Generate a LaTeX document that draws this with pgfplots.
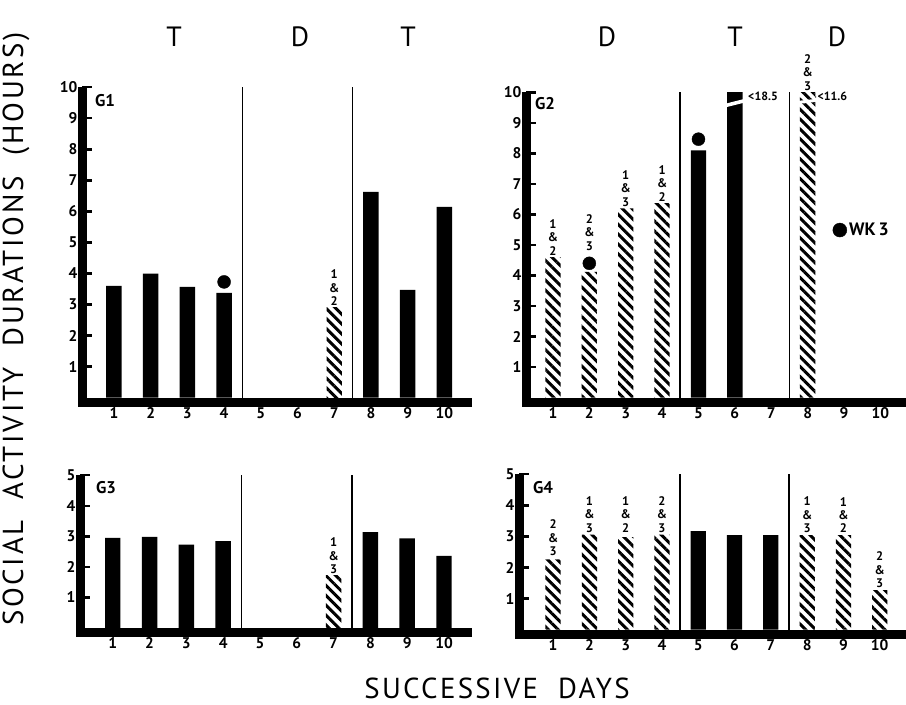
\documentclass[border=0pt]{standalone}
\usepackage{fontspec}
\setmainfont{PT Sans}
\usepackage{pgfplots}
\pgfplotsset{compat=1.18}
\usetikzlibrary{patterns.meta}

\pgfplotsset{
  panel/.style={
    scale only axis, anchor=south west,
    axis x line=bottom, axis y line=left,
    axis line style={-},
    x axis line style={line width=9bp, line cap=rect},
    y axis line style={line width=9bp},
    xtick={1,...,10}, xtick style={draw=none},
    xticklabels={1,2,3,4,5,6,7,8,9,10},
    ytick style={line width=2.4bp, black},
    tick align=inside, major tick length=10bp,
    /pgf/number format/assume math mode=true,
    tick label style={font=\bfseries\fontsize{15.5}{15.5}\selectfont},
    xticklabel style={yshift=-2bp},
    yticklabel style={xshift=-1bp},
    ymin=-0.15,
    clip mode=individual,
  },
  solidbar/.style={ybar, bar width=0.42, bar shift=0pt, fill=black, draw=none},
  hatchbar/.style={ybar, bar width=0.42, bar shift=0pt, draw=none,
    pattern={Lines[angle=-45,distance=7bp,line width=3bp]}},
  dots/.style={only marks, mark=*, mark size=6.5bp, black},
}
\tikzset{
  sep/.style={line width=1.8bp, black},
  stk/.style={anchor=south, align=center, font=\bfseries\fontsize{12.5}{13.5}\selectfont, inner sep=2bp},
}

\begin{document}
\begin{tikzpicture}
\useasboundingbox (0,0) rectangle (906bp,705bp);

% ---------------- G1 ----------------
\begin{axis}[panel, at={(82bp,302.6bp)}, width=385.5bp, height=315.2bp,
  xmin=0.13, xmax=10.63, ymax=10, ytick={1,...,10},
  yticklabels={1,2,3,4,5,6,7,8,9,10}]
\addplot[solidbar] coordinates {(1,3.6) (2,4.0) (3,3.57) (4,3.38) (8,6.63) (9,3.47) (10,6.15)};
\addplot[hatchbar] coordinates {(7,2.9)};
\addplot[dots] coordinates {(4,3.73)};
\draw[sep] (axis cs:4.5,-0.15) -- (axis cs:4.5,10);
\draw[sep] (axis cs:7.5,-0.15) -- (axis cs:7.5,10);
\node[stk] at (axis cs:7,2.9) {1\\\&\\2};
\end{axis}

% ---------------- G2 ----------------
\begin{axis}[panel, at={(526bp,302.9bp)}, width=375.5bp, height=309.6bp,
  xmin=0.26, xmax=10.58, ymax=10, ytick={1,...,10},
  yticklabels={1,2,3,4,5,6,7,8,9,10},
  legend style={draw=none, fill=none, at={(axis cs:8.6,5.49)}, anchor=west,
    font=\bfseries\fontsize{18}{18}\selectfont},
  legend image code/.code={\fill[black] (0bp,0bp) circle (7bp);}]
\addplot[solidbar, forget plot] coordinates {(5,8.1) (6,18.5)};
\addplot[hatchbar, forget plot] coordinates {(1,4.6) (2,4.12) (3,6.2) (4,6.37) (8,11.6)};
\addplot[dots] coordinates {(2,4.4) (5,8.47)};
\addlegendentry{WK\,3}
\fill[white] (axis cs:5.7,9.5) -- (axis cs:6.3,9.68) -- (axis cs:6.3,9.8) -- (axis cs:5.7,9.62) -- cycle;
\fill[white] (axis cs:7.7,9.62) -- (axis cs:8.3,9.7) -- (axis cs:8.3,9.8) -- (axis cs:7.7,9.72) -- cycle;
\draw[sep] (axis cs:4.5,-0.15) -- (axis cs:4.5,10);
\draw[sep] (axis cs:7.5,-0.15) -- (axis cs:7.5,10);
\node[stk] at (axis cs:1,4.6) {1\\\&\\2};
\node[stk] at (axis cs:2,4.75) {2\\\&\\3};
\node[stk] at (axis cs:3,6.2) {1\\\&\\3};
\node[stk] at (axis cs:4,6.37) {1\\\&\\2};
\node[stk] at (axis cs:8,10) {2\\\&\\3};
\end{axis}

% ---------------- G3 ----------------
\begin{axis}[panel, at={(80bp,72.6bp)}, width=387.2bp, height=157.1bp,
  xmin=0.11, xmax=10.63, ymax=5, ytick={1,...,5}, yticklabels={1,2,3,4,5}]
\addplot[solidbar] coordinates {(1,2.95) (2,2.98) (3,2.73) (4,2.84) (8,3.14) (9,2.93) (10,2.36)};
\addplot[hatchbar] coordinates {(7,1.7)};
\draw[sep] (axis cs:4.5,-0.15) -- (axis cs:4.5,5);
\draw[sep] (axis cs:7.5,-0.15) -- (axis cs:7.5,5);
\node[stk] at (axis cs:7,1.7) {1\\\&\\3};
\end{axis}

% ---------------- G4 ----------------
\begin{axis}[panel, at={(519bp,70.6bp)}, width=382.5bp, height=160.2bp,
  xmin=0.06, xmax=10.6, ymax=5, ytick={1,...,5}, yticklabels={1,2,3,4,5}]
\addplot[solidbar] coordinates {(5,3.17) (6,3.04) (7,3.04)};
\addplot[hatchbar] coordinates {(1,2.26) (2,3.06) (3,2.98) (4,3.06) (8,3.04) (9,3.04) (10,1.27)};
\draw[sep] (axis cs:4.5,-0.15) -- (axis cs:4.5,5);
\draw[sep] (axis cs:7.5,-0.15) -- (axis cs:7.5,5);
\node[stk] at (axis cs:1,2.3) {2\\\&\\3};
\node[stk] at (axis cs:2,3.06) {1\\\&\\3};
\node[stk] at (axis cs:3,3.06) {1\\\&\\2};
\node[stk] at (axis cs:4,3.06) {2\\\&\\3};
\node[stk] at (axis cs:8,3.04) {1\\\&\\3};
\node[stk] at (axis cs:9,3.04) {1\\\&\\2};
\node[stk] at (axis cs:10,1.27) {2\\\&\\3};
\end{axis}

% ---------------- texts ----------------
\node[font=\bfseries\fontsize{17}{17}\selectfont] at (105bp,604bp) {G1};
\node[font=\bfseries\fontsize{17}{17}\selectfont] at (545bp,601bp) {G2};
\node[font=\bfseries\fontsize{17}{17}\selectfont] at (106bp,217bp) {G3};
\node[font=\bfseries\fontsize{17}{17}\selectfont] at (543bp,217bp) {G4};
\node[anchor=west, font=\bfseries\fontsize{12}{12}\selectfont, inner sep=0pt] at (748bp,609bp) {<18.5};
\node[anchor=west, font=\bfseries\fontsize{12}{12}\selectfont, inner sep=0pt] at (814bp,609bp) {$\cdot$<11.6};
\foreach \xx/\tt in {174/T,300/D,408/T,607/D,735/T,837/D}
  \node[font=\fontsize{28}{28}\selectfont] at (\xx bp,668bp) {\tt};
\node[rotate=90, font=\fontsize{29}{29}\selectfont\addfontfeature{LetterSpace=9.5}] at (16bp,376bp) {SOCIAL\ \ ACTIVITY\ \ DURATIONS\ \ (HOURS)};
\node[font=\fontsize{29}{29}\selectfont\addfontfeature{LetterSpace=8}] at (497bp,17bp) {SUCCESSIVE\ \ DAYS};
\end{tikzpicture}
\end{document}
